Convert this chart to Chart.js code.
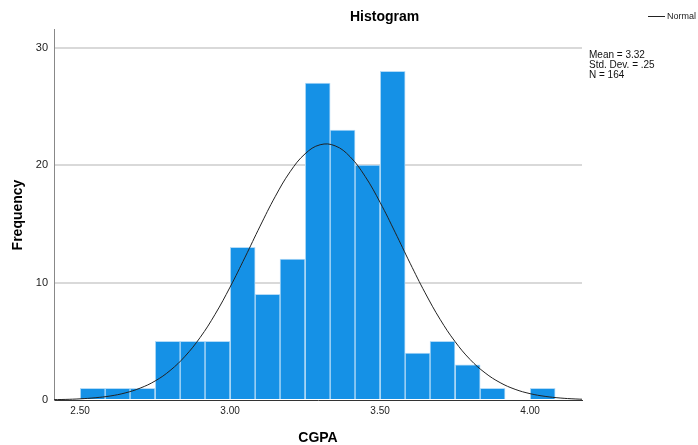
<!DOCTYPE html>
<html>
<head>
<meta charset="utf-8">
<script src="https://cdn.jsdelivr.net/npm/chart.js@4"></script>
<style>
  html, body { margin: 0; padding: 0; background: #fff; }
  canvas { display: block; }
</style>
</head>
<body>
<canvas id="myChart" width="698" height="445"></canvas>
<script>
// Histogram bins (centres of 1/12-wide bins starting at 2.50) and counts
const binCenters = [2.542, 2.625, 2.708, 2.792, 2.875, 2.958, 3.042, 3.125, 3.208, 3.292,
                    3.375, 3.458, 3.542, 3.625, 3.708, 3.792, 3.875, 3.958, 4.042];
const binCounts = [1, 1, 1, 5, 5, 5, 13, 9, 12, 27, 23, 20, 28, 4, 5, 3, 1, 0, 1];

// Normal curve, points
const normalX = [2.40, 2.45, 2.50, 2.55, 2.60, 2.65, 2.70, 2.75, 2.80, 2.85, 2.90, 2.95,
                 3.00, 3.05, 3.10, 3.15, 3.20, 3.25, 3.30, 3.35, 3.40, 3.45, 3.50, 3.55,
                 3.60, 3.65, 3.70, 3.75, 3.80, 3.85, 3.90, 3.95, 4.00, 4.05, 4.10, 4.15, 4.20];
const normalY = [0.03, 0.05, 0.10, 0.19, 0.34, 0.60, 1.01, 1.62, 2.51, 3.73, 5.32, 7.30,
                 9.62, 12.17, 14.81, 17.31, 19.44, 20.97, 21.74, 21.65, 20.72, 19.05, 16.83, 14.29,
                 11.65, 9.13, 6.87, 4.97, 3.45, 2.31, 1.48, 0.91, 0.54, 0.31, 0.17, 0.09, 0.04];

const xTicks = [2.5, 3.0, 3.5, 4.0];
const yTicks = [0, 10, 20, 30];
const statsLines = ['Mean = 3.32', 'Std. Dev. = .25', 'N = 164'];

const FONT = '"Liberation Sans", Arial, sans-serif';

// extra text: title, axis titles, legend, stats box
const textPlugin = {
    id: 'spssText',
    afterDraw(chart) {
        const c = chart.ctx;
        c.save();
        c.fillStyle = '#000';
        c.textBaseline = 'middle';

        c.font = 'bold 14px ' + FONT;
        c.textAlign = 'left';
        c.fillText('Histogram', 350, 17);

        c.textAlign = 'center';
        c.fillText('CGPA', 318, 438);

        c.save();
        c.translate(18, 215);
        c.rotate(-Math.PI / 2);
        c.fillText('Frequency', 0, 0);
        c.restore();

        // legend
        c.strokeStyle = '#222';
        c.lineWidth = 1;
        c.beginPath();
        c.moveTo(648, 16.5);
        c.lineTo(665, 16.5);
        c.stroke();
        c.font = '9px ' + FONT;
        c.textAlign = 'left';
        c.fillStyle = '#222';
        c.fillText('Normal', 667, 17);

        // stats
        c.font = '10px ' + FONT;
        c.fillStyle = '#111';
        statsLines.forEach((t, i) => c.fillText(t, 589, 55 + i * 10));
        c.restore();
    }
};

const ctx = document.getElementById('myChart').getContext('2d');
new Chart(ctx, {
    type: 'bar',
    data: {
        datasets: [
            {
                type: 'line',
                data: normalX.map((x, i) => ({ x: x, y: normalY[i] })),
                borderColor: '#222',
                borderWidth: 1,
                pointRadius: 0,
                tension: 0.4,
                fill: false,
                order: 0
            },
            {
                type: 'bar',
                data: binCenters.map((x, i) => ({ x: x, y: binCounts[i] })),
                backgroundColor: '#1591e6',
                borderColor: '#b4dbf7',
                borderWidth: 1,
                barPercentage: 1,
                categoryPercentage: 1,
                order: 1
            }
        ]
    },
    options: {
        responsive: false,
        animation: false,
        layout: { padding: { left: 0, top: 29, right: 116, bottom: 0 } },
        plugins: {
            legend: { display: false },
            tooltip: { enabled: false },
            title: { display: false }
        },
        scales: {
            x: {
                type: 'linear',
                min: 2.413,
                max: 4.173,
                offset: false,
                afterBuildTicks: (scale) => { scale.ticks = xTicks.map(v => ({ value: v })); },
                afterFit: (scale) => { scale.height = 45; },
                grid: { display: false, drawTicks: false },
                border: { display: true, color: '#333', width: 1 },
                ticks: {
                    padding: 5,
                    color: '#222',
                    font: { family: FONT, size: 10 },
                    maxRotation: 0,
                    callback: (v) => Number(v).toFixed(2)
                }
            },
            y: {
                min: 0,
                max: 31.6,
                afterBuildTicks: (scale) => { scale.ticks = yTicks.map(v => ({ value: v })); },
                afterFit: (scale) => { scale.width = 54; },
                grid: {
                    drawTicks: false,
                    color: (c) => c.tick && c.tick.value === 0 ? 'rgba(0,0,0,0)' : '#d9d9d9',
                    lineWidth: 2
                },
                border: { display: true, color: '#888', width: 1 },
                ticks: {
                    padding: 6,
                    color: '#222',
                    font: { family: FONT, size: 11 }
                }
            }
        }
    },
    plugins: [textPlugin]
});
</script>
</body>
</html>
